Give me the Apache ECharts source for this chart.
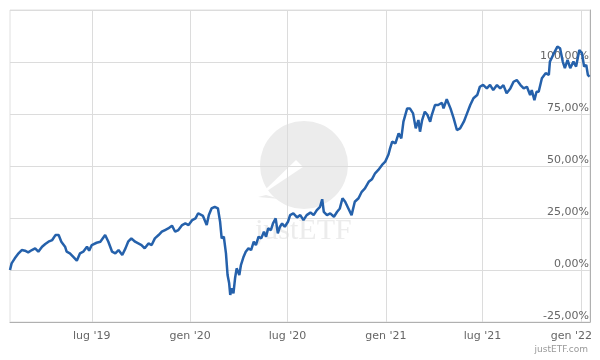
<!DOCTYPE html>
<html>
<head>
<meta charset="utf-8">
<script src="https://cdn.jsdelivr.net/npm/echarts@6/dist/echarts.min.js"></script>
<style>html,body{margin:0;padding:0;background:#fff;}#c{width:600px;height:360px;}</style>
</head>
<body>
<div id="c"></div>
<script>
const dates = [
'2019-01-29','2019-02-01','2019-02-07','2019-02-14','2019-02-20','2019-02-26','2019-03-04','2019-03-11','2019-03-17','2019-03-23',
'2019-03-30','2019-04-05','2019-04-11','2019-04-18','2019-04-24','2019-04-27','2019-04-30','2019-05-05','2019-05-12','2019-05-15',
'2019-05-21','2019-05-27','2019-06-03','2019-06-09','2019-06-15','2019-06-22','2019-06-26','2019-07-01','2019-07-10','2019-07-17',
'2019-07-26','2019-08-01','2019-08-08','2019-08-14','2019-08-20','2019-08-27','2019-09-02','2019-09-07','2019-09-13','2019-09-20',
'2019-09-26','2019-10-02','2019-10-08','2019-10-15','2019-10-21','2019-10-27','2019-11-03','2019-11-09','2019-11-15','2019-11-21',
'2019-11-28','2019-12-04','2019-12-10','2019-12-17','2019-12-23','2019-12-29','2020-01-05','2020-01-11','2020-01-16','2020-01-19',
'2020-01-25','2020-02-01','2020-02-05','2020-02-10','2020-02-16','2020-02-22','2020-02-26','2020-02-29','2020-03-04','2020-03-08',
'2020-03-11','2020-03-14','2020-03-16','2020-03-19','2020-03-22','2020-03-25','2020-03-28','2020-04-02','2020-04-05','2020-04-10',
'2020-04-14','2020-04-19','2020-04-24','2020-04-29','2020-05-03','2020-05-08','2020-05-13','2020-05-18','2020-05-22','2020-05-26',
'2020-05-31','2020-06-04','2020-06-09','2020-06-13','2020-06-17','2020-06-21','2020-06-26','2020-07-02','2020-07-06','2020-07-12',
'2020-07-19','2020-07-25','2020-07-31','2020-08-06','2020-08-13','2020-08-19','2020-08-25','2020-08-31','2020-09-04','2020-09-07',
'2020-09-13','2020-09-19','2020-09-26','2020-10-02','2020-10-07','2020-10-12','2020-10-17','2020-10-23','2020-10-29','2020-11-01',
'2020-11-04','2020-11-11','2020-11-17','2020-11-23','2020-11-30','2020-12-06','2020-12-12','2020-12-18','2020-12-25','2020-12-31',
'2021-01-06','2021-01-09','2021-01-13','2021-01-19','2021-01-25','2021-01-30','2021-02-03','2021-02-10','2021-02-15','2021-02-21',
'2021-02-26','2021-03-03','2021-03-06','2021-03-10','2021-03-15','2021-03-20','2021-03-25','2021-03-28','2021-04-03','2021-04-09',
'2021-04-16','2021-04-19','2021-04-25','2021-05-02','2021-05-08','2021-05-14','2021-05-20','2021-05-27','2021-06-02','2021-06-08',
'2021-06-14','2021-06-21','2021-06-26','2021-07-02','2021-07-09','2021-07-15','2021-07-21','2021-07-28','2021-08-03','2021-08-09',
'2021-08-15','2021-08-22','2021-08-28','2021-09-03','2021-09-10','2021-09-16','2021-09-22','2021-09-28','2021-10-01','2021-10-06',
'2021-10-10','2021-10-14','2021-10-20','2021-10-27','2021-11-02','2021-11-04','2021-11-10','2021-11-18','2021-11-23','2021-11-28',
'2021-12-02','2021-12-07','2021-12-12','2021-12-18','2021-12-23','2021-12-29','2022-01-03','2022-01-07','2022-01-11','2022-01-14',
'2022-01-17'
];
const performance = [
0.0,3.2,5.6,8.0,9.6,9.3,8.5,9.6,10.4,8.8,
11.2,12.5,13.6,14.4,16.8,17.6,16.8,13.6,11.2,8.8,
8.0,6.4,4.5,8.0,8.8,11.2,9.3,12.0,13.1,13.6,
16.8,13.6,8.8,8.0,9.6,7.2,10.4,13.6,15.2,13.6,
12.8,12.0,10.4,12.8,12.0,15.2,16.8,18.4,19.2,20.0,
21.3,18.4,19.2,21.6,22.4,21.6,24.0,24.8,27.3,27.3,
26.0,21.6,26.4,29.6,30.4,29.6,23.2,15.2,16.0,8.0,
-2.4,-6.4,-12.0,-8.8,-11.2,-4.0,0.8,-2.4,2.4,6.4,
8.8,10.4,9.6,13.6,12.0,16.0,15.2,18.4,16.0,20.0,
19.2,22.4,24.8,17.6,20.8,22.4,20.8,23.2,26.4,27.2,
25.3,26.4,24.0,26.4,27.6,26.4,28.8,30.4,34.0,28.0,
26.4,27.2,25.6,28.0,29.6,34.5,32.8,29.6,26.4,25.6,
32.8,34.5,37.6,39.2,42.4,43.6,46.5,48.1,50.5,52.1,
55.5,58.5,61.7,60.9,65.7,63.3,71.3,77.7,77.7,75.3,
68.1,72.1,66.5,72.1,76.1,74.5,71.3,74.5,79.3,79.3,
80.4,77.7,82.1,77.7,72.9,67.3,68.1,71.3,75.3,79.3,
82.6,84.1,88.1,89.0,87.3,89.0,86.5,88.9,87.3,88.9,
85.0,87.3,90.5,91.3,88.9,87.3,88.1,84.1,86.5,81.7,
85.7,85.7,92.2,94.6,93.8,100.2,103.4,107.4,106.6,100.2,
97.0,101.0,97.0,100.2,97.8,105.8,104.2,97.8,98.6,93.8,
92.9
];
const xTickDates = ['2019-07-01','2020-01-01','2020-07-01','2021-01-01','2021-07-01','2022-01-01'];
const monthNames = {0:'gen', 6:'lug'};
const xMin = '2019-01-29', xMax = '2022-01-18';

function ts(s){const p=s.split('-');return new Date(+p[0],+p[1]-1,+p[2]).getTime();}
const FONT = 'DejaVu Sans';
const chart = echarts.init(document.getElementById('c'), null, {renderer:'canvas'});
const tickTs = xTickDates.map(ts);
const lastTick = tickTs[tickTs.length-1];
chart.setOption({
  animation:false,
  grid:{left:10,right:10,top:10,bottom:38,containLabel:false,outerBoundsMode:'none',show:true,borderColor:'#e0e0e0',borderWidth:1,backgroundColor:'transparent'},
  xAxis:{
    type:'value', min:ts(xMin), max:ts(xMax),
    axisLine:{show:true,onZero:false,lineStyle:{color:'#b0b0b0',width:1}},
    axisTick:{show:false, customValues:tickTs},
    axisLabel:{customValues:tickTs, color:'#666', fontSize:11, fontFamily:FONT, margin:9,
      rich:{last:{color:'#666', fontSize:11, fontFamily:FONT, padding:[0,19,0,0]}},
      formatter:function(v){const d=new Date(v);const t=monthNames[d.getMonth()]+" '"+String(d.getFullYear()).slice(2);
        return v===lastTick?'{last|'+t+'}':t;}},
    splitLine:{show:true,lineStyle:{color:'#dcdcdc',width:1}}
  },
  yAxis:{
    type:'value', position:'right', min:-25, max:125, interval:25,
    axisLine:{show:true,onZero:false,lineStyle:{color:'#b0b0b0',width:1}},
    axisTick:{show:false},
    axisLabel:{inside:true, color:'#666', fontSize:11, fontFamily:FONT, margin:1, verticalAlign:'bottom',
      formatter:function(v){return v===125?'':v.toFixed(2).replace('.',',')+'%';}},
    splitLine:{show:true,lineStyle:{color:'#dcdcdc',width:1}}
  },
  graphic:[
    {type:'circle', z:-10, shape:{cx:304,cy:165,r:44}, style:{fill:'#ececec'}},
    {type:'polygon', z:-9, shape:{points:[[303,167],[258,197],[268,187],[296,160]]}, style:{fill:'#ffffff'}},
    {type:'polygon', z:-9, shape:{points:[[258,197],[280,199],[266,195]]}, style:{fill:'#ececec'}},
    {type:'text', z:-10, left:255, top:216, style:{text:'justETF', font:'30px "Liberation Serif"', fill:'#ececec'}},
    {type:'text', right:12, top:345, style:{text:'justETF.com', font:'9px "DejaVu Sans"', fill:'#999'}}
  ],
  series:[{
    type:'line', showSymbol:false, smooth:false,
    lineStyle:{color:'#2561ab',width:2.5},
    itemStyle:{color:'#2561ab'},
    data:dates.map((d,i)=>[ts(d),performance[i]])
  }]
});
</script>
</body>
</html>
